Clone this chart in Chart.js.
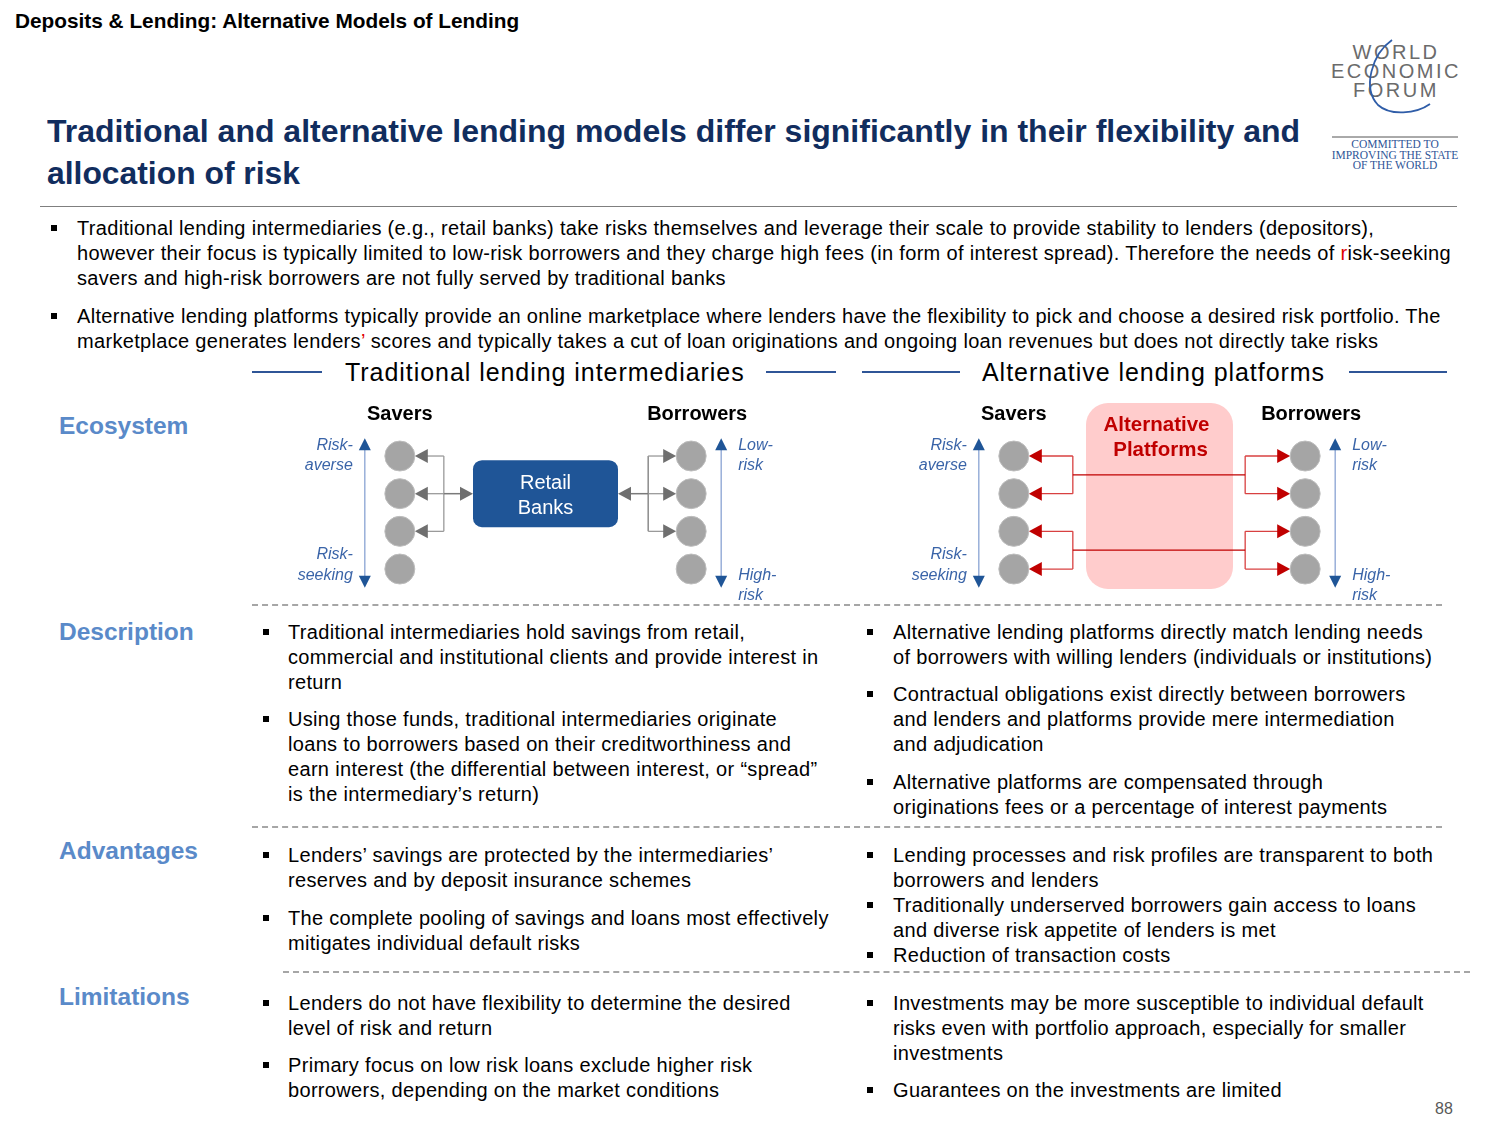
<!DOCTYPE html>
<html>
<head>
<meta charset="utf-8">
<script src="https://cdn.jsdelivr.net/npm/chart.js@4.4.1/dist/chart.umd.min.js"></script>
<style>
  html, body { margin: 0; padding: 0; background: #fff; }
  body { width: 1500px; height: 1125px; position: relative; overflow: hidden;
         font-family: "Liberation Sans", Arial, sans-serif; color: #000; }
  .abs { position: absolute; white-space: nowrap; }
  .body { font-size: 20px; line-height: 25px; letter-spacing: 0.32px; }
  .sq { position: absolute; width: 6px; height: 6px; background: #000; }
  .sec { position: absolute; font-size: 24.5px; font-weight: bold; color: #5A8AC9; line-height: 30px; }
  .hline { position: absolute; height: 2px; background: #2F5597; }
  .dash { position: absolute; height: 0; border-top: 2px dashed #A6A6A6; }
  .red { color: #E00000; }
  .colhead { position: absolute; white-space: nowrap; font-size: 25px; line-height: 28px; letter-spacing: 0.95px; }
  canvas { position: absolute; }
</style>
</head>
<body>
<script>
// ---------- diagram data ----------
const riskLevels = [1, 2, 3, 4];                 // 1 = risk-averse / low-risk, 4 = risk-seeking / high-risk
const columns = ['Savers', 'Intermediary', 'Borrowers'];
const tradSaversLinked = [1, 1, 1, 0];            // savers served by retail banks
const tradBorrowersLinked = [1, 1, 1, 0];         // borrowers served by retail banks
const altSaversLinked = [1, 1, 1, 1];             // savers matched through platforms
const altBorrowersLinked = [1, 1, 1, 1];          // borrowers matched through platforms
const saverRiskLabels = [['Risk-', 'averse'], ['Risk-', 'seeking']];
const borrowerRiskLabels = [['Low-', 'risk'], ['High-', 'risk']];
const intermediaryLabels = [['Retail', 'Banks'], ['Alternative', 'Platforms']];
const columnTitles = ['Savers', 'Borrowers'];
</script>

<!-- header -->
<div class="abs" style="left:15px; top:8px; font-size:20.8px; font-weight:bold; line-height:25px;">Deposits &amp; Lending: Alternative Models of Lending</div>

<!-- logo -->
<svg class="abs" style="left:1320px; top:30px;" width="150" height="150" viewBox="0 0 150 150">
  <g font-family="Liberation Sans, Arial, sans-serif" font-size="20" fill="#6b6b6b" text-anchor="middle" letter-spacing="2.5">
    <text x="76" y="29">WORLD</text>
    <text x="76" y="48">ECONOMIC</text>
    <text x="76" y="67">FORUM</text>
  </g>
  <path d="M72 10 C 52 24, 42 58, 58 75 C 70 86, 96 84, 110 74" fill="none" stroke="#2F5DA8" stroke-width="1.8"/>
  <line x1="12" y1="107" x2="138" y2="107" stroke="#555" stroke-width="1"/>
  <g font-family="Liberation Serif, Times New Roman, serif" font-size="11.5" fill="#2F5597" text-anchor="middle">
    <text x="75" y="118">COMMITTED TO</text>
    <text x="75" y="129">IMPROVING THE STATE</text>
    <text x="75" y="139">OF THE WORLD</text>
  </g>
</svg>

<!-- title -->
<div class="abs" style="left:47px; top:110px; font-size:32px; font-weight:bold; color:#112D5E; line-height:42px;">
  <span class="fit" data-w="1253" style="display:inline-block; transform-origin:left;">Traditional and alternative lending models differ significantly in their flexibility and</span><br>
  <span class="fit" data-w="253" style="display:inline-block; transform-origin:left;">allocation of risk</span>
</div>
<div class="abs" style="left:40px; top:206px; width:1417px; height:1px; background:#7f7f7f;"></div>

<!-- intro bullets -->
<div class="sq" style="left:51px; top:225px;"></div>
<div class="abs body" style="left:77px; top:215.5px;">Traditional lending intermediaries (e.g., retail banks) take risks themselves and leverage their scale to provide stability to lenders (depositors),<br>however their focus is typically limited to low-risk borrowers and they charge high fees (in form of interest spread). Therefore the needs of <span class="red">r</span>isk-seeking<br>savers and high-risk borrowers are not fully served by traditional banks</div>
<div class="sq" style="left:51px; top:313px;"></div>
<div class="abs body" style="left:77px; top:303.5px;">Alternative lending platforms typically provide an online marketplace where lenders have the flexibility to pick and choose a desired risk portfolio. The<br>marketplace generates lenders<span class="red">’</span> scores and typically takes a cut of loan originations and ongoing loan revenues but does not directly take risks</div>

<!-- column headers -->
<div class="hline" style="left:252px; top:371px; width:70px;"></div>
<div class="colhead" style="left:345px; top:358px;">Traditional lending intermediaries</div>
<div class="hline" style="left:766px; top:371px; width:70px;"></div>
<div class="hline" style="left:862px; top:371px; width:98px;"></div>
<div class="colhead" style="left:982px; top:358px;">Alternative lending platforms</div>
<div class="hline" style="left:1349px; top:371px; width:98px;"></div>

<!-- section labels -->
<div class="sec" style="left:59px; top:411px;">Ecosystem</div>
<div class="sec" style="left:59px; top:617px;">Description</div>
<div class="sec" style="left:59px; top:836px;">Advantages</div>
<div class="sec" style="left:59px; top:982px;">Limitations</div>

<!-- separators -->
<div class="dash" style="left:252px; top:604px; width:1190px;"></div>
<div class="dash" style="left:252px; top:826px; width:1190px;"></div>
<div class="dash" style="left:283px; top:971px; width:1187px;"></div>

<!-- diagrams -->
<canvas id="tradChart" width="620" height="210" style="left:240px; top:395px;"></canvas>
<canvas id="altChart" width="600" height="210" style="left:860px; top:395px;"></canvas>

<!-- description -->
<div class="sq" style="left:263px; top:629px;"></div>
<div class="abs body" style="left:288px; top:619.5px;">Traditional intermediaries hold savings from retail,<br>commercial and institutional clients and provide interest in<br>return</div>
<div class="sq" style="left:263px; top:716px;"></div>
<div class="abs body" style="left:288px; top:706.5px;">Using those funds, traditional intermediaries originate<br>loans to borrowers based on their creditworthiness and<br>earn interest (the differential between interest, or “spread”<br>is the intermediary’s return)</div>

<div class="sq" style="left:867px; top:629px;"></div>
<div class="abs body" style="left:893px; top:619.5px;">Alternative lending platforms directly match lending needs<br>of borrowers with willing lenders (individuals or institutions)</div>
<div class="sq" style="left:867px; top:691px;"></div>
<div class="abs body" style="left:893px; top:681.5px;">Contractual obligations exist directly between borrowers<br>and lenders and platforms provide mere intermediation<br>and adjudication</div>
<div class="sq" style="left:867px; top:779px;"></div>
<div class="abs body" style="left:893px; top:769.5px;">Alternative platforms are compensated through<br>originations fees or a percentage of interest payments</div>

<!-- advantages -->
<div class="sq" style="left:263px; top:852px;"></div>
<div class="abs body" style="left:288px; top:842.5px;">Lenders’ savings are protected by the intermediaries’<br>reserves and by deposit insurance schemes</div>
<div class="sq" style="left:263px; top:915px;"></div>
<div class="abs body" style="left:288px; top:905.5px;">The complete pooling of savings and loans most effectively<br>mitigates individual default risks</div>

<div class="sq" style="left:867px; top:852px;"></div>
<div class="abs body" style="left:893px; top:842.5px;">Lending processes and risk profiles are transparent to both<br>borrowers and lenders</div>
<div class="sq" style="left:867px; top:902px;"></div>
<div class="abs body" style="left:893px; top:892.5px;">Traditionally underserved borrowers gain access to loans<br>and diverse risk appetite of lenders is met</div>
<div class="sq" style="left:867px; top:952px;"></div>
<div class="abs body" style="left:893px; top:942.5px;">Reduction of transaction costs</div>

<!-- limitations -->
<div class="sq" style="left:263px; top:1000px;"></div>
<div class="abs body" style="left:288px; top:990.5px;">Lenders do not have flexibility to determine the desired<br>level of risk and return</div>
<div class="sq" style="left:263px; top:1062px;"></div>
<div class="abs body" style="left:288px; top:1052.5px;">Primary focus on low risk loans exclude higher risk<br>borrowers, depending on the market conditions</div>

<div class="sq" style="left:867px; top:1000px;"></div>
<div class="abs body" style="left:893px; top:990.5px;">Investments may be more susceptible to individual default<br>risks even with portfolio approach, especially for smaller<br>investments</div>
<div class="sq" style="left:867px; top:1087px;"></div>
<div class="abs body" style="left:893px; top:1077.5px;">Guarantees on the investments are limited</div>

<div class="abs" style="left:1435px; top:1099px; font-size:16px; color:#595959; line-height:20px;">88</div>

<script>
// fit title lines to their measured widths in the reference
document.querySelectorAll('.fit').forEach(el => {
  const w = el.getBoundingClientRect().width;
  const target = +el.dataset.w;
  if (w > 0) el.style.transform = 'scaleX(' + (target / w).toFixed(4) + ')';
});

const FONT = '"Liberation Sans", Arial, sans-serif';
const BLUE = '#1F5597';

function tri(ctx, tipX, tipY, dir, len, half, color) {
  ctx.save();
  ctx.fillStyle = color;
  ctx.beginPath();
  if (dir === 'left') { ctx.moveTo(tipX, tipY); ctx.lineTo(tipX + len, tipY - half); ctx.lineTo(tipX + len, tipY + half); }
  if (dir === 'right') { ctx.moveTo(tipX, tipY); ctx.lineTo(tipX - len, tipY - half); ctx.lineTo(tipX - len, tipY + half); }
  if (dir === 'up') { ctx.moveTo(tipX, tipY); ctx.lineTo(tipX - half, tipY + len); ctx.lineTo(tipX + half, tipY + len); }
  if (dir === 'down') { ctx.moveTo(tipX, tipY); ctx.lineTo(tipX - half, tipY - len); ctx.lineTo(tipX + half, tipY - len); }
  ctx.closePath();
  ctx.fill();
  ctx.restore();
}
function seg(ctx, x1, y1, x2, y2, color, w) {
  ctx.save();
  ctx.strokeStyle = color; ctx.lineWidth = w;
  ctx.beginPath(); ctx.moveTo(x1, y1); ctx.lineTo(x2, y2); ctx.stroke();
  ctx.restore();
}
function rrect(ctx, x, y, w, h, r, fill) {
  ctx.save();
  ctx.fillStyle = fill;
  ctx.beginPath();
  ctx.roundRect(x, y, w, h, r);
  ctx.fill();
  ctx.restore();
}

function makeDiagram(canvasId, model, saversLinked, borrowersLinked, pad) {
  const savers = riskLevels.map(r => ({ x: columns[0], y: r }));
  const borrowers = riskLevels.map(r => ({ x: columns[2], y: r }));

  const diagramPlugin = {
    id: 'diagram',
    beforeDatasetsDraw(chart) {
      const ctx = chart.ctx;
      const xs = chart.scales.x, ys = chart.scales.y;
      const sx = xs.getPixelForValue(0), mx = xs.getPixelForValue(1), bx = xs.getPixelForValue(2);
      const rowY = riskLevels.map(r => ys.getPixelForValue(r));
      const topY = ys.getPixelForValue(0.5), botY = ys.getPixelForValue(4.5);
      const headY = rowY[0] - 42;

      // column titles
      ctx.save();
      ctx.fillStyle = '#000';
      ctx.font = 'bold 20px ' + FONT;
      ctx.textAlign = 'center'; ctx.textBaseline = 'middle';
      ctx.fillText(columnTitles[0], sx, headY);
      ctx.fillText(columnTitles[1], bx + 6, headY);
      ctx.restore();

      // risk axes
      [[sx - 35, saverRiskLabels, 'right', -12], [bx + 30, borrowerRiskLabels, 'left', 17]].forEach(([ax, labels, align, off], k) => {
        seg(ctx, ax, topY + 8, ax, botY - 8, '#7F9BCF', 1.2);
        tri(ctx, ax, topY + 1, 'up', 12, 6, BLUE);
        tri(ctx, ax, botY, 'down', 12, 6, BLUE);
        ctx.save();
        ctx.fillStyle = '#3A64A8';
        ctx.font = 'italic 16px ' + FONT;
        ctx.textAlign = align; ctx.textBaseline = 'middle';
        ctx.fillText(labels[0][0], ax + off, topY + 8);
        ctx.fillText(labels[0][1], ax + off, topY + 28);
        if (k === 0) {
          ctx.fillText(labels[1][0], ax + off, botY - 33);
          ctx.fillText(labels[1][1], ax + off, botY - 12);
        } else {
          ctx.fillText(labels[1][0], ax + off, botY - 12);
          ctx.fillText(labels[1][1], ax + off, botY + 8);
        }
        ctx.restore();
      });

      if (model === 0) {
        const bw = 145, bh = 67;
        const boxL = mx - bw / 2, boxR = mx + bw / 2;
        rrect(ctx, boxL, rowY[1] - bh / 2, bw, bh, 9, '#1F5597');
        ctx.save();
        ctx.fillStyle = '#fff';
        ctx.font = '20px ' + FONT;
        ctx.textAlign = 'center'; ctx.textBaseline = 'middle';
        ctx.fillText(intermediaryLabels[0][0], mx, rowY[1] - 10);
        ctx.fillText(intermediaryLabels[0][1], mx, rowY[1] + 15);
        ctx.restore();
        const LC = '#9a9a9a', AC = '#6F6F6F';
        const brL = sx + 44;
        const linkedS = riskLevels.map((r, i) => i).filter(i => saversLinked[i]);
        seg(ctx, brL, rowY[linkedS[0]], brL, rowY[linkedS[linkedS.length - 1]], LC, 1.3);
        linkedS.forEach(i => {
          seg(ctx, sx + 27, rowY[i], brL, rowY[i], LC, 1.3);
          tri(ctx, sx + 15, rowY[i], 'left', 13, 7, AC);
        });
        seg(ctx, brL, rowY[1], boxL - 12, rowY[1], '#7a7a7a', 1.5);
        tri(ctx, boxL, rowY[1], 'right', 13, 7, AC);
        const brR = bx - 43;
        const linkedB = riskLevels.map((r, i) => i).filter(i => borrowersLinked[i]);
        seg(ctx, brR, rowY[linkedB[0]], brR, rowY[linkedB[linkedB.length - 1]], '#7a7a7a', 1.3);
        linkedB.forEach(i => {
          seg(ctx, brR, rowY[i], bx - 27, rowY[i], LC, 1.3);
          tri(ctx, bx - 15, rowY[i], 'right', 13, 7, AC);
        });
        seg(ctx, boxR + 12, rowY[1], brR, rowY[1], '#7a7a7a', 1.5);
        tri(ctx, boxR, rowY[1], 'left', 13, 7, AC);
      } else {
        const bw = 147;
        const boxT = rowY[0] - 53, boxB = rowY[3] + 20;
        rrect(ctx, mx - bw / 2, boxT, bw, boxB - boxT, 22, '#FFCCCC');
        ctx.save();
        ctx.fillStyle = '#C00000';
        ctx.font = 'bold 20.5px ' + FONT;
        ctx.textAlign = 'center'; ctx.textBaseline = 'middle';
        ctx.fillText(intermediaryLabels[1][0], mx - 3, boxT + 22);
        ctx.fillText(intermediaryLabels[1][1], mx + 1, boxT + 47);
        ctx.restore();
        const RC = '#C00000';
        const brL = sx + 59, brR = bx - 60;
        [[0, 1], [2, 3]].forEach(([a, b]) => {
          const midY = (rowY[a] + rowY[b]) / 2;
          seg(ctx, brL, rowY[a], brL, rowY[b], '#D84040', 1.3);
          seg(ctx, brR, rowY[a], brR, rowY[b], '#D84040', 1.3);
          seg(ctx, brL, midY, brR, midY, RC, 1.3);
          [a, b].forEach(i => {
            if (saversLinked[i]) {
              seg(ctx, sx + 27, rowY[i], brL, rowY[i], '#D84040', 1.3);
              tri(ctx, sx + 15, rowY[i], 'left', 13, 7, RC);
            }
            if (borrowersLinked[i]) {
              seg(ctx, brR, rowY[i], bx - 27, rowY[i], '#D84040', 1.3);
              tri(ctx, bx - 15, rowY[i], 'right', 13, 7, RC);
            }
          });
        });
      }
    }
  };

  return new Chart(document.getElementById(canvasId), {
    type: 'scatter',
    data: {
      datasets: [
        { label: 'Savers', data: savers },
        { label: 'Borrowers', data: borrowers }
      ].map(d => Object.assign(d, {
        pointRadius: 15, pointHoverRadius: 15,
        backgroundColor: '#A5A5A5', borderColor: '#BDBDBD', borderWidth: 1
      }))
    },
    options: {
      responsive: false,
      animation: false,
      devicePixelRatio: 1,
      events: [],
      layout: { autoPadding: false, padding: { left: pad[0], right: pad[1], top: 0, bottom: 0 } },
      plugins: { legend: { display: false }, tooltip: { enabled: false } },
      scales: {
        x: { type: 'category', labels: columns, offset: true, display: false },
        y: { type: 'linear', min: -0.62, max: 4.955, reverse: true, display: false }
      }
    },
    plugins: [diagramPlugin]
  });
}

makeDiagram('tradChart', 0, tradSaversLinked, tradBorrowersLinked, [87, 96]);
makeDiagram('altChart', 1, altSaversLinked, altBorrowersLinked, [81, 82]);
</script>
</body>
</html>
